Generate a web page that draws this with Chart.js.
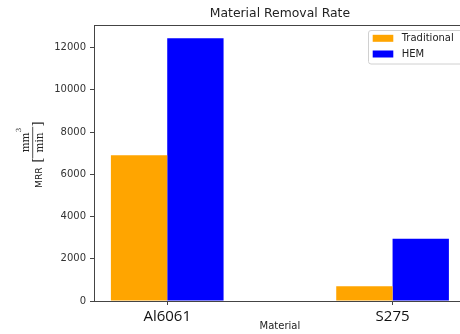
<!DOCTYPE html>
<html>
<head>
<meta charset="utf-8">
<script src="https://cdn.jsdelivr.net/npm/chart.js@4/dist/chart.umd.min.js"></script>
<style>
  html, body { margin: 0; padding: 0; background: #fff; overflow: hidden; width: 460px; height: 334px; }
  #wrap { width: 480px; height: 334px; }
</style>
</head>
<body>
<div id="wrap"><canvas id="c" width="480" height="334"></canvas></div>
<script>
// Material removal rate per material and machining method (mm^3/min)
const categories = ['Al6061', 'S275'];
const traditional = [6900, 700];
const hem = [12450, 2950];
const yTicks = [0, 2000, 4000, 6000, 8000, 10000, 12000];
const seriesNames = ['Traditional', 'HEM'];
const seriesColors = ['#FFA500', '#0000FF'];

const SPINE = '#444';
const TEXT = '#222';

// value-axis top: 5 % headroom over the tallest bar
const yMax = Math.max(...traditional, ...hem) * 1.05;

function points(values) {
  return categories.map((c, i) => ({ x: i, y: values[i] }));
}

// Top spine, title, y-axis label and legend
const decorations = {
  id: 'decorations',
  afterDraw(chart) {
    const ctx = chart.ctx;
    const a = chart.chartArea;
    const L = Math.round(a.left) + 0.5, T = Math.round(a.top) + 0.5;

    // top spine (left and bottom come from the axis borders)
    ctx.save();
    ctx.strokeStyle = SPINE;
    ctx.lineWidth = 1;
    ctx.beginPath();
    ctx.moveTo(L, T);
    ctx.lineTo(a.right, T);
    ctx.stroke();
    ctx.restore();

    // title
    ctx.save();
    ctx.fillStyle = TEXT;
    ctx.font = '12.4px "DejaVu Sans"';
    ctx.textAlign = 'center';
    ctx.textBaseline = 'middle';
    ctx.fillText('Material Removal Rate', (a.left + a.right) / 2, 14);
    ctx.restore();

    // y-axis label: MRR [mm^3 / min], reading bottom to top
    ctx.save();
    ctx.rotate(-Math.PI / 2);          // local x = -screenY, local y = screenX
    ctx.fillStyle = TEXT;
    ctx.strokeStyle = TEXT;
    ctx.textBaseline = 'alphabetic';
    ctx.font = '9.2px "DejaVu Sans"';
    ctx.textAlign = 'left';
    ctx.fillText('MRR', -188, 41.7);
    ctx.font = '13px "DejaVu Serif"';
    ctx.fillText('[', -162.5, 41.5);
    ctx.textAlign = 'right';
    ctx.fillText(']', -121.5, 41.5);
    ctx.lineWidth = 0.8;
    ctx.beginPath();
    ctx.moveTo(-158.3, 32.7);
    ctx.lineTo(-126.7, 32.7);
    ctx.stroke();
    ctx.textAlign = 'center';
    ctx.font = '10.5px "DejaVu Serif"';
    ctx.fillText('min', -142.5, 42.8);
    ctx.fillText('mm', -142.4, 29.3);
    ctx.font = '7px "DejaVu Serif"';
    ctx.textAlign = 'left';
    ctx.fillText('3', -132.3, 20.5);
    ctx.restore();

    // legend (upper right, inside the plot)
    ctx.save();
    const bx = 368.5, by = 30.5, bw = 100, bh = 33.5, r = 2.5;
    ctx.beginPath();
    ctx.moveTo(bx + bw, by);
    ctx.lineTo(bx + r, by);
    ctx.arcTo(bx, by, bx, by + r, r);
    ctx.lineTo(bx, by + bh - r);
    ctx.arcTo(bx, by + bh, bx + r, by + bh, r);
    ctx.lineTo(bx + bw, by + bh);
    ctx.fillStyle = 'rgba(255,255,255,0.8)';
    ctx.fill();
    ctx.strokeStyle = '#d0d0d0';
    ctx.lineWidth = 1;
    ctx.stroke();
    ctx.font = '10px "DejaVu Sans"';
    ctx.textAlign = 'left';
    ctx.textBaseline = 'middle';
    chart.data.datasets.forEach((ds, i) => {
      const cy = 38.3 + i * 15.7;
      ctx.fillStyle = ds.backgroundColor;
      ctx.fillRect(372.7, cy - 3.5, 20.6, 7);
      ctx.fillStyle = TEXT;
      ctx.fillText(ds.label, 401.7, cy);
    });
    ctx.restore();
  }
};

new Chart(document.getElementById('c'), {
  type: 'bar',
  data: {
    datasets: [
      { label: seriesNames[0], data: points(traditional), backgroundColor: seriesColors[0] },
      { label: seriesNames[1], data: points(hem), backgroundColor: seriesColors[1] }
    ]
  },
  options: {
    responsive: false,
    devicePixelRatio: 1,
    animation: false,
    categoryPercentage: 0.5,
    barPercentage: 1.0,
    layout: { padding: { left: 0, top: 25, right: 14.2, bottom: 2 } },
    plugins: {
      legend: { display: false },
      title: { display: false },
      tooltip: { enabled: false }
    },
    scales: {
      x: {
        type: 'linear',
        min: -0.325,
        max: 1.325,
        offset: false,
        afterBuildTicks: (s) => { s.ticks = categories.map((c, i) => ({ value: i })); },
        afterFit: (s) => { s.height = 31; },
        ticks: {
          callback: (v) => categories[v],
          font: { family: '"Open Sans"', size: 15 },
          color: '#111',
          padding: 3,
          maxRotation: 0,
          autoSkip: false
        },
        grid: { display: true, drawOnChartArea: false, drawTicks: true, tickLength: 4, color: SPINE, offset: false },
        border: { display: true, color: SPINE, width: 1 },
        title: {
          display: true,
          text: 'Material',
          font: { family: '"DejaVu Sans"', size: 10 },
          color: TEXT,
          padding: { top: 0, bottom: 0 }
        }
      },
      y: {
        min: 0,
        max: yMax,
        afterBuildTicks: (s) => { s.ticks = yTicks.map(v => ({ value: v })); },
        afterFit: (s) => { s.width = 94; },
        ticks: {
          callback: (v) => String(v),
          font: { family: '"DejaVu Sans"', size: 10 },
          color: '#333',
          padding: 4
        },
        grid: { display: true, drawOnChartArea: false, drawTicks: true, tickLength: 4, color: SPINE },
        border: { display: true, color: SPINE, width: 1 }
      }
    }
  },
  plugins: [decorations]
});
</script>
</body>
</html>
